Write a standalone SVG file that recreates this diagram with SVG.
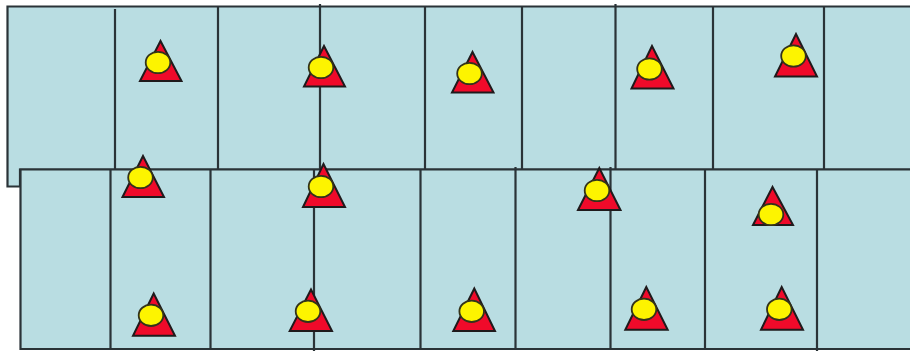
<svg xmlns="http://www.w3.org/2000/svg" width="910" height="351" viewBox="0 0 910 351">
  <style>
    .panel { fill: #b9dde2; stroke: #2a3337; stroke-width: 2.200; }
    .div { fill: none; stroke: #2a3337; stroke-width: 2.200; }
    .tri { fill: #f00a2a; stroke: #1f1a1c; stroke-width: 2; stroke-linejoin: miter; }
    .dot { fill: #fdf400; stroke: #33331a; stroke-width: 1.800; }
  </style>
  <rect width="910" height="351" fill="#ffffff"/>
  <g id="panels">
    <path id="panel-top" class="panel" d="M915 6.500H7.500V186.500H20V169.500H915Z"/>
    <path id="panel-bottom" class="panel" d="M915 169.500H20.500V349H915Z"/>
  </g>
  <g id="connectors">
    <path class="div" d="M115 9V169M218 6V169M320 4V169M425 6V169M522 6V169M615.500 4V169M713 6V169M824 6V169"/>
    <path class="div" d="M110.500 169V349M210.500 169V349M314 169V351M420.500 169V349M515.500 167V349M610.500 167V349M705 169V349M817 169V351"/>
  </g>
  <g id="node-1"><polygon class="tri" points="160.500,41 140,81 181.500,81"/><ellipse class="dot" cx="158" cy="62.500" rx="12.300" ry="10.700"/></g>
  <g id="node-2"><polygon class="tri" points="324,46 304,86.500 345,86.500"/><ellipse class="dot" cx="321" cy="67.500" rx="12.300" ry="10.700"/></g>
  <g id="node-3"><polygon class="tri" points="472.500,52 452,92.500 493.500,92.500"/><ellipse class="dot" cx="469.500" cy="73.500" rx="12.300" ry="10.700"/></g>
  <g id="node-4"><polygon class="tri" points="652,46 631.500,88.500 673.500,88.500"/><ellipse class="dot" cx="649.500" cy="69" rx="12.300" ry="10.700"/></g>
  <g id="node-5"><polygon class="tri" points="796,34 775,76.500 817,76.500"/><ellipse class="dot" cx="793.500" cy="56" rx="12.300" ry="10.700"/></g>
  <g id="node-6"><polygon class="tri" points="143,156 122.500,197 164,197"/><ellipse class="dot" cx="140.500" cy="177.500" rx="12.300" ry="10.700"/></g>
  <g id="node-7"><polygon class="tri" points="323.500,164 303,207 345,207"/><ellipse class="dot" cx="321" cy="186.500" rx="12.300" ry="10.700"/></g>
  <g id="node-8"><polygon class="tri" points="599.300,168 578,210 620.500,210"/><ellipse class="dot" cx="597" cy="190.500" rx="12.300" ry="10.700"/></g>
  <g id="node-9"><polygon class="tri" points="772.500,187 753,225 793,225"/><ellipse class="dot" cx="771" cy="214.500" rx="12.300" ry="10.700"/></g>
  <g id="node-10"><polygon class="tri" points="153.700,293.500 133,335.700 175,335.700"/><ellipse class="dot" cx="151" cy="315.300" rx="12.300" ry="10.700"/></g>
  <g id="node-11"><polygon class="tri" points="311,289.500 289.700,331 332,331"/><ellipse class="dot" cx="308" cy="311.300" rx="12.300" ry="10.700"/></g>
  <g id="node-12"><polygon class="tri" points="474.300,288.500 453.300,331 495,331"/><ellipse class="dot" cx="471.700" cy="311.300" rx="12.300" ry="10.700"/></g>
  <g id="node-13"><polygon class="tri" points="646.300,287 625.300,329.700 667.700,329.700"/><ellipse class="dot" cx="644" cy="309.300" rx="12.300" ry="10.700"/></g>
  <g id="node-14"><polygon class="tri" points="781.700,287 761,329.700 803,329.700"/><ellipse class="dot" cx="779.300" cy="309.300" rx="12.300" ry="10.700"/></g>
</svg>
